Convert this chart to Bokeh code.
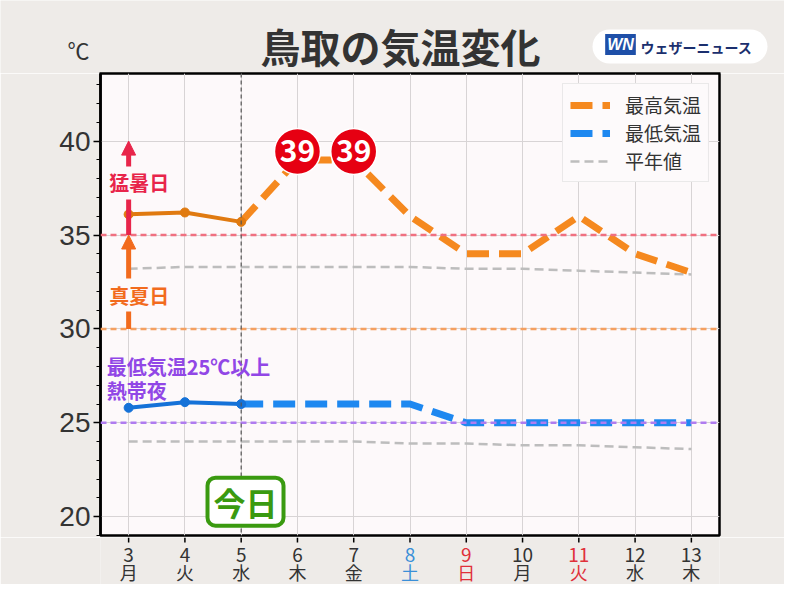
from bokeh.plotting import figure
from bokeh.layouts import column
from bokeh.models import (Range1d, Label, Span, Arrow, NormalHead,
                          SingleIntervalTicker, FixedTicker, Legend, LegendItem)
from bokeh.core.properties import value
from bokeh.embed import file_html
from bokeh.resources import INLINE

# ---------------- data ----------------
days = [3, 4, 5, 6, 7, 8, 9, 10, 11, 12, 13]
weekdays = ["月", "火", "水", "木", "金", "土", "日", "月", "火", "水", "木"]
day_colors = ["#333333", "#333333", "#333333", "#333333", "#333333", "#3a8fd8",
              "#e0303a", "#333333", "#e0303a", "#333333", "#333333"]
obs_days = [3, 4, 5]
obs_max = [36.1, 36.2, 35.7]
obs_min = [25.8, 26.1, 26.0]
fc_days = [5, 6, 7, 8, 9, 10, 11, 12, 13]
fc_max = [35.7, 39, 39, 36, 34, 34, 36, 34, 33]
fc_min = [26.0, 26, 26, 26, 25, 25, 25, 25, 25]
normal_max = [33.2, 33.3, 33.3, 33.3, 33.3, 33.3, 33.2, 33.2, 33.1, 33.0, 32.9]
normal_min = [24.0, 24.0, 24.0, 24.0, 24.0, 23.9, 23.9, 23.8, 23.8, 23.7, 23.6]
thresholds = [35, 30, 25]
today = 5

JP = "Noto Sans CJK JP"
BG = "#fdf9fa"
OUT = "#eeebe8"
W = 784
HEAD_H = 73
FRAME_L, FRAME_R = 100, 719

# ---------------- header (title, unit, logo) ----------------
head = figure(width=W, height=HEAD_H, x_range=Range1d(0, W), y_range=Range1d(HEAD_H, 0),
              output_backend="svg", toolbar_location=None,
              x_axis_location=None, y_axis_location=None,
              min_border_left=0, min_border_right=0, min_border_top=0, min_border_bottom=0)
if "frame_align" in head.properties():
    head.frame_align = False
head.grid.visible = False
head.outline_line_color = None
head.background_fill_color = OUT
head.border_fill_color = OUT
# top edge of the plot frame
head.line([FRAME_L - 1, FRAME_R + 1], [HEAD_H - 0.6, HEAD_H - 0.6], line_color="black", line_width=1.5)
head.add_layout(Label(x=400, y=45, text="鳥取の気温変化", text_font=JP, text_font_style="bold",
                      text_font_size="40px", text_color="#333333", text_align="center",
                      text_baseline="middle"))
head.add_layout(Label(x=78, y=48, text="℃", text_font=JP, text_font_size="22px",
                      text_color="#333333", text_align="center", text_baseline="middle"))
head.add_layout(Label(x=592, y=46, text="ウェザーニュース", text_font=JP, text_font_style="bold",
                      text_font_size="14px", text_color="#1b2f6e", text_align="left",
                      text_baseline="middle", background_fill_color="white",
                      border_radius=17, padding=(48, 15, 7, 7)))
head.add_layout(Label(x=620, y=44, text="WN", text_font="Liberation Sans",
                      text_font_style="bold italic", text_font_size="16px", text_color="white",
                      text_align="center", text_baseline="middle",
                      background_fill_color="#1e4fa8", padding=(2, 2, 2, 2)))

# ---------------- main plot ----------------
p = figure(frame_width=FRAME_R - FRAME_L, frame_height=462, x_range=Range1d(2.5, 13.5),
           y_range=Range1d(19.0, 43.6), output_backend="svg", toolbar_location=None,
           x_axis_location=None,
           min_border_left=FRAME_L, min_border_right=W - FRAME_R, min_border_top=0,
           min_border_bottom=2)
p.background_fill_color = BG
p.border_fill_color = OUT
p.outline_line_color = "black"
p.outline_line_width = 2.5

p.yaxis.ticker = SingleIntervalTicker(interval=5, num_minor_ticks=5)
p.yaxis.axis_line_width = 2.5
p.yaxis.major_tick_out = 7
p.yaxis.major_tick_in = 0
p.yaxis.minor_tick_out = 4
p.yaxis.minor_tick_in = 0
p.yaxis.major_tick_line_width = 1.5
p.yaxis.major_label_text_font = "Liberation Sans"
p.yaxis.major_label_text_font_size = "28px"
p.yaxis.major_label_text_color = "#333333"
p.yaxis.major_label_standoff = 3

p.xgrid.ticker = FixedTicker(ticks=days)
p.xgrid.grid_line_color = "#d8d4d5"
p.ygrid.grid_line_color = "#d8d4d5"

# normals
r_norm = p.line(days, normal_max, line_color="#bdbdbd", line_width=2.5, line_dash="9 5")
p.line(days, normal_min, line_color="#bdbdbd", line_width=2.5, line_dash="9 5")

# forecast
r_fmax = p.line(fc_days, fc_max, line_color="#f5891f", line_width=7, line_dash="22 10")
r_fmin = p.line(fc_days, fc_min, line_color="#1e88f0", line_width=7, line_dash="22 10")

# observed
p.line(obs_days, obs_max, line_color="#e07a10", line_width=4)
p.scatter(obs_days, obs_max, size=9, color="#e07a10")
p.line(obs_days, obs_min, line_color="#1572d8", line_width=4)
p.scatter(obs_days, obs_min, size=9, color="#1572d8")

# peak markers
peak = max(fc_max)
peak_days = [d for d, v in zip(fc_days, fc_max) if v == peak]
peak_y = [peak + 0.45 for _ in peak_days]
p.scatter(peak_days, peak_y, size=46, fill_color="#e60012", line_color="white", line_width=1.5)
p.text(peak_days, peak_y, text=[str(int(peak)) for _ in peak_days], text_color="white",
       text_font=value(JP), text_font_style="bold", text_font_size="30px",
       text_align="center", text_baseline="middle")

# threshold lines
th_colors = ["#f07080", "#f5a060", "#b07cf0"]
for t, c in zip(thresholds, th_colors):
    p.add_layout(Span(location=t, dimension="width", line_color=c, line_width=2.5,
                      line_dash="6 4"))

p.add_layout(Span(location=today, dimension="height", line_color="#555555",
                  line_width=1.2, line_dash="4 3"))

# arrows
for y0, y1, c in [(thresholds[1], thresholds[0], "#f26b1d"), (thresholds[0], 40, "#e8254a")]:
    p.add_layout(Arrow(end=NormalHead(size=14, fill_color=c, line_color=c),
                       x_start=days[0], y_start=y0, x_end=days[0], y_end=y1,
                       line_color=c, line_width=5))

p.add_layout(Label(x=2.62, y=31.8, text="真夏日", text_font=JP, text_font_style="bold",
                   text_font_size="20px", text_color="#f26b1d", text_baseline="middle",
                   background_fill_color=BG, padding=2))
p.add_layout(Label(x=2.62, y=37.77, text="猛暑日", text_font=JP, text_font_style="bold",
                   text_font_size="20px", text_color="#e8254a", text_baseline="middle",
                   background_fill_color=BG, padding=2))
p.add_layout(Label(x=2.61, y=28.0, text="最低気温25℃以上", text_font=JP, text_font_style="bold",
                   text_font_size="20px", text_color="#9147e6", text_baseline="middle"))
p.add_layout(Label(x=2.61, y=26.72, text="熱帯夜", text_font=JP, text_font_style="bold",
                   text_font_size="20px", text_color="#9147e6", text_baseline="middle"))

# today box
p.add_layout(Label(x=5.077, y=20.8, text="今日", text_font=JP, text_font_style="bold",
                   text_font_size="32px", text_color="#3a9a10", text_align="center",
                   text_baseline="middle", background_fill_color="white",
                   border_line_color="#3a9a10", border_line_width=4, border_radius=8,
                   padding=(6, 6, 1, 1)))

legend = Legend(items=[LegendItem(label="最高気温", renderers=[r_fmax]),
                       LegendItem(label="最低気温", renderers=[r_fmin]),
                       LegendItem(label="平年値", renderers=[r_norm])],
                location="top_right", margin=10, padding=7, spacing=1,
                glyph_width=40, glyph_height=20, label_height=20, label_standoff=15,
                label_text_font=JP, label_text_font_size="19px", label_text_color="#333333",
                background_fill_color="#fdfafb", background_fill_alpha=1,
                border_line_color="#d8d8d8", border_line_width=1)
p.add_layout(legend)

# ---------------- footer (ticks, day / weekday labels) ----------------
FOOT_TOP = HEAD_H + 462 + 2
FOOT_H = 584 - FOOT_TOP
foot = figure(frame_width=FRAME_R - FRAME_L, frame_height=FOOT_H, x_range=p.x_range,
              y_range=Range1d(584, FOOT_TOP), output_backend="svg", toolbar_location=None,
              x_axis_location=None, y_axis_location=None,
              min_border_left=FRAME_L, min_border_right=W - FRAME_R, min_border_top=0,
              min_border_bottom=0)
foot.grid.visible = False
foot.outline_line_color = None
foot.background_fill_color = OUT
foot.border_fill_color = OUT
foot.segment(x0=days, y0=[FOOT_TOP] * len(days), x1=days, y1=[FOOT_TOP + 5] * len(days),
             line_color="black", line_width=1.5)
foot.text(days, [554] * len(days), text=[str(d) for d in days], text_color=day_colors,
          text_font=value(JP), text_font_size="19px", text_align="center",
          text_baseline="middle")
foot.text(days, [571] * len(days), text=weekdays, text_color=day_colors,
          text_font=value(JP), text_font_size="18px", text_align="center",
          text_baseline="middle")

layout = column(head, p, foot, spacing=0)
open("out.html", "w").write(file_html(layout, INLINE))
